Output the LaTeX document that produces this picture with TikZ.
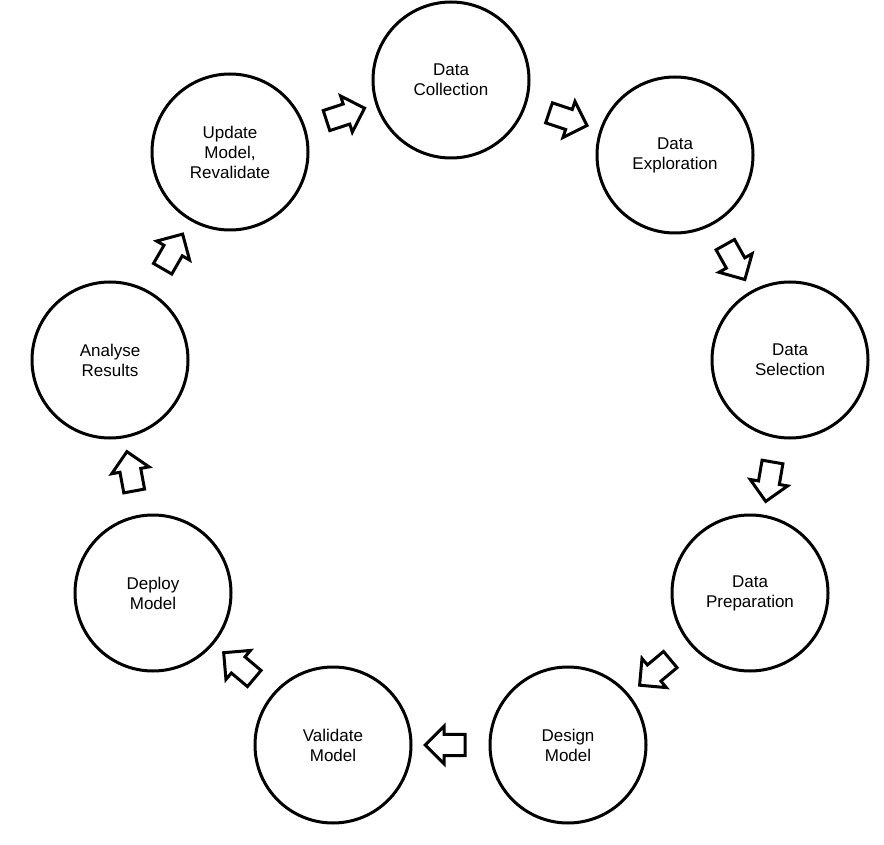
\documentclass[tikz,border=0pt]{standalone}
\usepackage{fontspec}
\setmainfont{Liberation Sans}
\usetikzlibrary{shapes.arrows,calc}
\begin{document}
\begin{tikzpicture}[x=1pt,y=-1pt,
  stage/.style={circle,draw,line width=3pt,minimum size=156pt,inner sep=0pt,align=center,font=\fontsize{17}{20}\selectfont},
  blk/.style={single arrow,draw,line width=3pt,fill=white,minimum height=40pt,minimum width=38pt,single arrow head extend=6pt,inner sep=6pt}]
\useasboundingbox (0,0) rectangle (884,845);
\node[stage] (c1) at (451,80) {Data\\Collection};
\node[stage] (c2) at (675,155) {Data\\Exploration};
\node[stage] (c3) at (790,360) {Data\\Selection};
\node[stage] (c4) at (750,593) {Data\\Preparation};
\node[stage] (c5) at (568,745) {Design\\Model};
\node[stage] (c6) at (333,745) {Validate\\Model};
\node[stage] (c7) at (153,593) {Deploy\\Model};
\node[stage] (c8) at (110,360) {Analyse\\Results};
\node[stage] (c9) at (230,152) {Update\\Model,\\Revalidate};
\foreach \a/\b [count=\i] in {c1/c2,c2/c3,c3/c4,c4/c5,c5/c6,c6/c7,c7/c8,c8/c9,c9/c1}{
  \path let \p1=($(\b)-(\a)$), \n1={atan2(\y1,\x1)} in
    node[blk,rotate=\n1] (a\i) at ($(\a)!0.5!(\b)$) {};
}
\end{tikzpicture}
\end{document}
